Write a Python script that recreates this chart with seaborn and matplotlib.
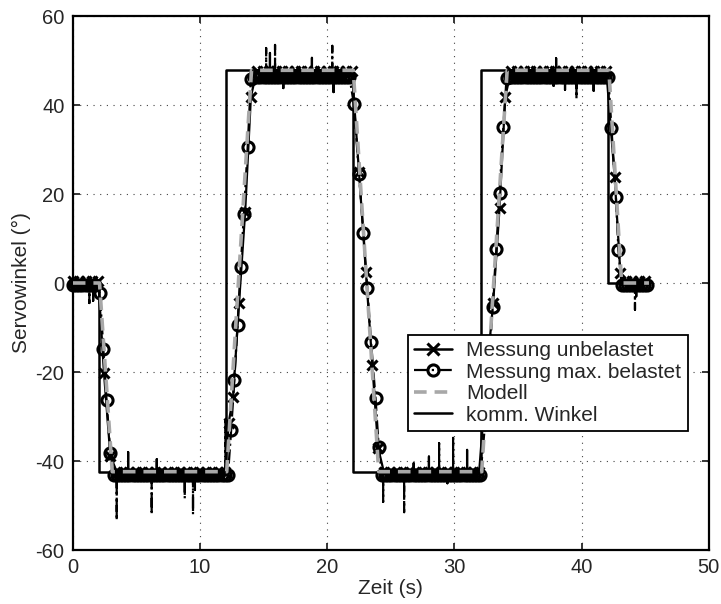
import numpy as np
import pandas as pd
import matplotlib
matplotlib.use('Agg')
import matplotlib.pyplot as plt
from matplotlib.lines import Line2D
import seaborn as sns

# kommandierter Winkel (Spruenge)
t_komm = [0.0, 2.05, 2.05, 12.05, 12.05, 22.0, 22.0, 32.1, 32.1, 42.1, 42.1, 45.2]
w_komm = [0.0, 0.0, -42.4, -42.4, 47.8, 47.8, -42.4, -42.4, 47.8, 47.8, 0.0, 0.0]

# Modell (Knickpunkte)
t_modell = [0.0, 2.1, 3.1, 12.1, 14.05, 22.05, 24.05, 32.15, 34.15, 42.15, 43.15, 45.3]
w_modell = [0.0, 0.0, -42.4, -42.4, 47.8, 47.8, -42.4, -42.4, 47.8, 47.8, 0.0, 0.0]

# Messung unbelastet: Plateaus (Beginn, Ende, Niveau), Abtastung 0.5 s
unb_start = [0.0, 3.45, 14.45, 24.45, 34.45, 43.5]
unb_ende = [2.0, 11.95, 21.95, 31.95, 41.95, 45.0]
unb_niveau = [0.5, -42.4, 47.6, -42.4, 47.6, 0.5]
# Rampen
unb_rampe_t = [2.45, 2.95, 12.25, 12.6, 13.07, 13.55, 14.0,
               22.5, 23.05, 23.55, 24.0, 32.55, 33.05, 33.55, 34.0, 42.6, 43.05]
unb_rampe_w = [-20.2, -38.8, -31.5, -25.6, -4.5, 16.0, 41.8,
               24.9, 2.5, -18.4, -37.0, -20.0, -4.5, 16.8, 41.8, 23.9, 2.2]
# Ausreisser
unb_spitze_t = [1.6, 4.35, 6.6, 9.6, 15.5, 16.55, 18.8, 20.5, 26.8, 28.0,
                29.45, 31.0, 37.8, 38.0, 38.7, 40.95, 44.3]
unb_spitze_w = [-4.0, -38.0, -39.6, -46.5, 51.7, 43.8, 50.6, 42.9, -40.5, -39.0,
                -45.0, -37.5, 44.3, 50.5, 43.4, 43.2, -3.0]

# Messung max. belastet: Plateaus, Abtastung 0.25 s
bel_start = [0.0, 3.2, 14.25, 24.3, 34.35, 43.15]
bel_ende = [1.9, 12.2, 21.95, 32.05, 42.1, 45.3]
bel_niveau = [-0.5, -43.2, 46.3, -43.2, 46.3, -0.5]
bel_rampe_t = [2.13, 2.4, 2.65, 2.95,
               12.45, 12.7, 12.95, 13.2, 13.45, 13.75, 14.0,
               22.1, 22.5, 22.85, 23.15, 23.45, 23.8, 24.05,
               32.45, 32.75, 33.0, 33.3, 33.55, 33.85, 34.1,
               42.35, 42.7, 42.9]
bel_rampe_w = [-2.3, -14.9, -26.3, -38.2,
               -33.0, -21.8, -9.4, 3.6, 15.5, 30.6, 45.8,
               40.2, 24.5, 11.2, -1.1, -13.3, -25.8, -36.8,
               -30.5, -17.8, -5.4, 7.6, 20.3, 35.0, 46.0,
               34.8, 19.4, 7.4]
bel_spitze_t = [1.3, 3.45, 6.2, 8.8, 9.45, 12.0, 15.2, 15.9, 20.4, 24.4,
                26.05, 28.8, 29.9, 39.6, 44.2]
bel_spitze_w = [-4.5, -53.3, -52.0, -48.4, -52.0, -31.0, 52.8, 53.5, 53.3, -49.2,
                -51.5, -36.0, -34.8, 41.5, -6.0]


def messreihe(start, ende, niveau, dt, rampe_t, rampe_w, spitze_t, spitze_w):
    # Abtastpunkte der Plateaus + Rampen -> Markerpunkte
    t, w = [], []
    for a, e, n in zip(start, ende, niveau):
        tt = np.arange(a, e + 1e-6, dt)
        t += list(tt)
        w += [n] * len(tt)
    t += rampe_t
    w += rampe_w
    marker = pd.DataFrame({'t': t, 'w': w}).sort_values('t', kind='stable')
    # Linie inkl. Ausreisser (senkrechte Spitzen)
    lt, lw = list(t), list(w)
    for ts, ws in zip(spitze_t, spitze_w):
        n = [nv for a, e, nv in zip(start, ende, niveau) if a <= ts <= e][0]
        lt += [ts, ts, ts]
        lw += [n, ws, n]
    linie = pd.DataFrame({'t': lt, 'w': lw}).sort_values('t', kind='stable')
    return marker, linie


unb_marker, unb_linie = messreihe(unb_start, unb_ende, unb_niveau, 0.5,
                                  unb_rampe_t, unb_rampe_w, unb_spitze_t, unb_spitze_w)
bel_marker, bel_linie = messreihe(bel_start, bel_ende, bel_niveau, 0.25,
                                  bel_rampe_t, bel_rampe_w, bel_spitze_t, bel_spitze_w)

sns.set_style('ticks')
plt.rcParams['font.family'] = ['Liberation Sans', 'DejaVu Sans']
plt.rcParams['axes.unicode_minus'] = False

fig, ax = plt.subplots(figsize=(7.21, 6.04), dpi=100)
fig.subplots_adjust(left=0.101, right=0.983, bottom=0.0894, top=0.9735)

grau = '#a8a8a8'

sns.lineplot(x=t_komm, y=w_komm, sort=False, estimator=None, color='k',
             lw=1.8, ax=ax, zorder=2)
sns.lineplot(data=unb_linie, x='t', y='w', sort=False, estimator=None,
             color='k', lw=1.6, ax=ax, zorder=3)
sns.lineplot(data=unb_marker, x='t', y='w', sort=False, estimator=None,
             color='k', linestyle='none', marker='x', ms=7.5, mew=2.2, mec='k',
             ax=ax, zorder=3, clip_on=False)
sns.lineplot(data=bel_linie, x='t', y='w', sort=False, estimator=None,
             color='k', lw=1.6, linestyle='-.', ax=ax, zorder=4)
sns.lineplot(data=bel_marker, x='t', y='w', sort=False, estimator=None,
             color='k', linestyle='none', marker='o', ms=8, mew=2.2, mec='k',
             mfc='none', ax=ax, zorder=4, clip_on=False)
sns.lineplot(x=t_modell, y=w_modell, sort=False, estimator=None, color=grau,
             lw=2.6, dashes=False, ax=ax, zorder=5)
ax.lines[-1].set_dashes((3.5, 2.2))

ax.set_xlim(0, 50)
ax.set_ylim(-60, 60)
ax.set_xticks(range(0, 51, 10))
ax.set_yticks(range(-60, 61, 20))
ax.set_xlabel('Zeit (s)', fontsize=15, labelpad=1)
ax.set_ylabel('Servowinkel (°)', fontsize=15, labelpad=3)
ax.tick_params(direction='in', top=True, right=True, length=5, width=1.3,
               labelsize=14.5, pad=6)
for s in ax.spines.values():
    s.set_linewidth(1.6)
    s.set_color('k')
ax.grid(True, color='#444444', lw=0.8, linestyle=(0, (1, 5)))
ax.set_axisbelow(True)

handles = [
    Line2D([], [], color='k', lw=1.8, marker='x', ms=8, mew=2.2),
    Line2D([], [], color='k', lw=1.6, linestyle='-.', marker='o', ms=8, mew=2.2,
           mfc='none'),
    Line2D([], [], color=grau, lw=2.6, dashes=(3.5, 2.2)),
    Line2D([], [], color='k', lw=1.8),
]
labels = ['Messung unbelastet', 'Messung max. belastet', 'Modell', 'komm. Winkel']
leg = ax.legend(handles, labels, loc='upper left', bbox_to_anchor=(0.527, 0.403),
                borderaxespad=0, fontsize=15, fancybox=False, framealpha=1,
                edgecolor='k', borderpad=0.3, labelspacing=0.12,
                handlelength=1.8, handletextpad=0.7)
leg.get_frame().set_linewidth(1.3)
leg.set_zorder(10)

plt.savefig('out.png', dpi=100)
